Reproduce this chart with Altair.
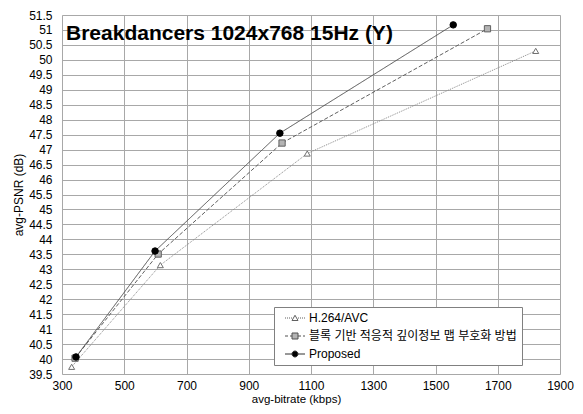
import altair as alt
import pandas as pd

series_names = ["H.264/AVC", "블록 기반 적응적 깊이정보 맵 부호화 방법", "Proposed"]
h264_rate = [331, 616, 1088, 1822]
h264_psnr = [39.74, 43.14, 46.87, 50.30]
block_rate = [342, 609, 1007, 1667]
block_psnr = [40.03, 43.51, 47.22, 51.04]
prop_rate = [345, 599, 1000, 1557]
prop_psnr = [40.07, 43.61, 47.55, 51.17]
x_ticks = [300, 500, 700, 900, 1100, 1300, 1500, 1700, 1900]
y_ticks = [39.5 + 0.5 * i for i in range(25)]

rows = []
for name, rates, psnrs in zip(series_names, [h264_rate, block_rate, prop_rate],
                              [h264_psnr, block_psnr, prop_psnr]):
    for i, (r, p) in enumerate(zip(rates, psnrs)):
        rows.append({"series": name, "rate": r, "psnr": p, "order": i})
df = pd.DataFrame(rows)

FONT = "Liberation Sans, Arial, Noto Sans CJK KR"


def dash_path(x0, x1, on, off):
    parts = []
    x = x0
    while x < x1 - 1e-9:
        e = min(x + on, x1)
        parts.append(f"M{x:.2f},0H{e:.2f}")
        x = e + off
    return "".join(parts)


def legend_line(on, off):
    if off == 0:
        return "M-2,0H-0.6M0.6,0H2"
    return dash_path(-2, -0.6, on, off) + dash_path(0.6, 2, on, off)


tri = "M0,-0.55L0.6,0.5L-0.6,0.5Z"
sq = "M-0.6,-0.6H0.6V0.6H-0.6Z"
circ = "M-0.6,0A0.6,0.6 0 1,0 0.6,0A0.6,0.6 0 1,0 -0.6,0Z"
legend_shapes = [legend_line(0.2, 0.2) + tri, legend_line(0.6, 0.4) + sq, legend_line(1, 0) + circ]

xscale = alt.Scale(domain=[300, 1900], nice=False, zero=False)
yscale = alt.Scale(domain=[39.5, 51.5], nice=False, zero=False)

xenc = alt.X("rate:Q", scale=xscale,
             axis=alt.Axis(values=x_ticks, title="avg-bitrate (kbps)", ticks=False,
                           domain=False, labelPadding=6, titlePadding=2, format="d",
                           labelFlush=False,
                           gridColor="#a8a8a8", labelFontSize=12, titleFontSize=11.5,
                           labelFont=FONT, titleFont=FONT, titleFontWeight="normal",
                           labelColor="black", titleColor="black", titleX=234,
                           labelOverlap=False))
yenc = alt.Y("psnr:Q", scale=yscale,
             axis=alt.Axis(values=y_ticks, title="avg-PSNR (dB)", ticks=False,
                           domain=False, labelPadding=10, titlePadding=3, format="~g",
                           gridColor="#a8a8a8", labelFontSize=12, titleFontSize=12,
                           labelFont=FONT, titleFont=FONT, titleFontWeight="normal",
                           labelColor="black", titleColor="black", labelOverlap=False))

lines = alt.Chart(df).mark_line(strokeWidth=1).encode(
    x=xenc, y=yenc,
    order="order:Q",
    color=alt.Color("series:N", scale=alt.Scale(domain=series_names,
                    range=["#8a8a8a", "#606060", "#505050"]), legend=None),
    strokeDash=alt.StrokeDash("series:N", scale=alt.Scale(domain=series_names,
                              range=[[1, 1], [4, 2], [1, 0]]), legend=None),
)

points = alt.Chart(df).mark_point(filled=True, strokeWidth=1, opacity=1).encode(
    x=xenc, y=yenc,
    shape=alt.Shape("series:N", scale=alt.Scale(domain=series_names,
                    range=["triangle-up", "square", "circle"]), legend=None),
    fill=alt.Fill("series:N", scale=alt.Scale(domain=series_names,
                  range=["white", "#b4b4b4", "black"]), legend=None),
    stroke=alt.Stroke("series:N", scale=alt.Scale(domain=series_names,
                      range=["#707070", "#606060", "black"]), legend=None),
    size=alt.Size("series:N", scale=alt.Scale(domain=series_names,
                  range=[36, 42, 28]), legend=None),
)

leg = alt.Legend(title=None, orient="none", legendX=212, legendY=292,
                 strokeColor="#808080", fillColor="white", padding=5, rowPadding=6,
                 symbolOffset=10, labelOffset=8, symbolOpacity=1,
                 symbolStrokeWidth=1, symbolStrokeColor="#404040",
                 labelFont=FONT, labelFontSize=12,
                 labelColor="black", labelLimit=400)

legend_layer = alt.Chart(df).mark_point(filled=True, opacity=0, size=100,
                                         strokeWidth=1).encode(
    x=xenc, y=yenc,
    shape=alt.Shape("series:N", scale=alt.Scale(domain=series_names, range=legend_shapes),
                    legend=leg),
    fill=alt.Fill("series:N", scale=alt.Scale(domain=series_names,
                  range=["white", "#b4b4b4", "black"]), legend=leg),
    stroke=alt.Stroke("series:N", scale=alt.Scale(domain=series_names,
                      range=["#606060", "#505050", "#303030"]), legend=leg),
)

chart = alt.layer(lines, points, legend_layer).resolve_scale(
    shape="independent", fill="independent", size="independent", stroke="independent"
).properties(
    width=498, height=359,
    autosize=alt.AutoSizeParams(type="none"),
    padding={"left": 54, "top": 7, "right": 15, "bottom": 32},
    title=alt.TitleParams("Breakdancers 1024x768 15Hz (Y)", anchor="start", frame="group",
                          dx=4, offset=-35, fontSize=21, font=FONT, fontWeight="bold",
                          color="black"),
).configure_view(stroke="#808080", strokeWidth=1).configure_legend(
    strokeDash=[1, 1]
).configure(background="white")

chart.save("out.html", embed_options={"renderer": "svg", "actions": False})
